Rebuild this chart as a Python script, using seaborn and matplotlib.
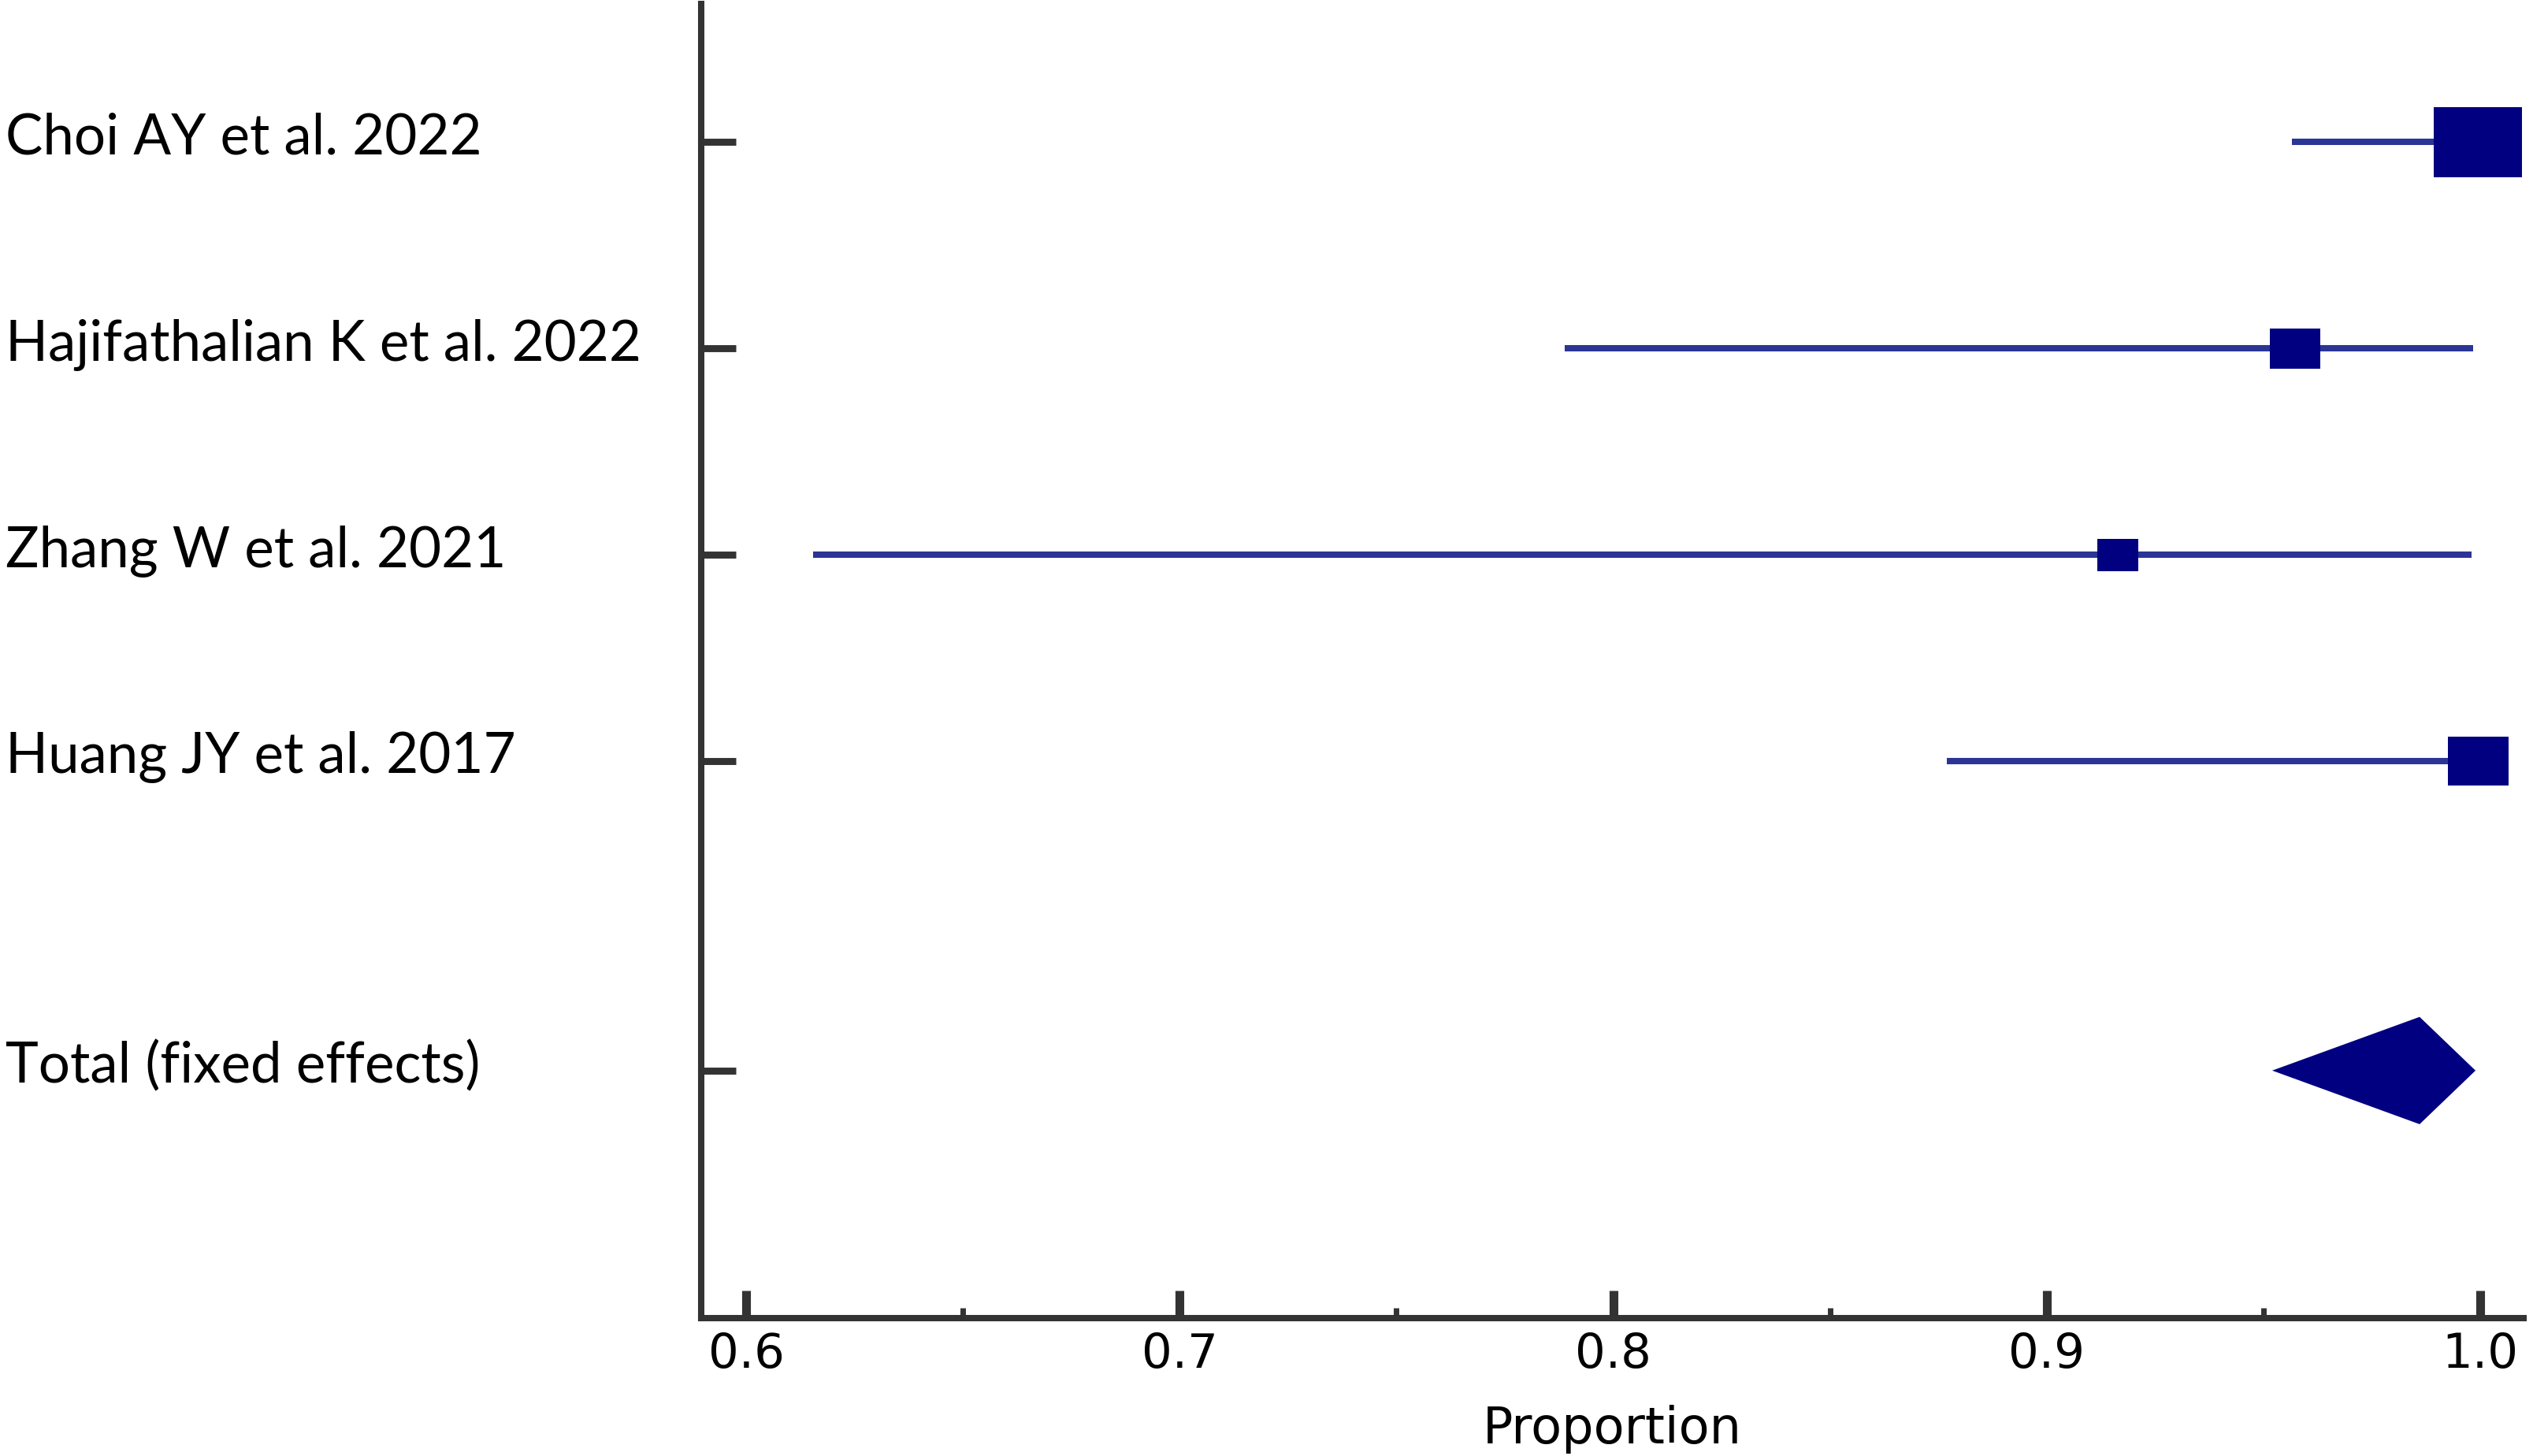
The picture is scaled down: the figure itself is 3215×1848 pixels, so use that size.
import numpy as np
import pandas as pd
import seaborn as sns
import matplotlib.pyplot as plt
import matplotlib.transforms as mtransforms
from matplotlib.markers import MarkerStyle
from matplotlib.path import Path

# study data
studies = ["Choi AY et al. 2022", "Hajifathalian K et al. 2022",
           "Zhang W et al. 2021", "Huang JY et al. 2017"]
prop = [0.9995, 0.9573, 0.9164, 0.9995]
ci_low = [0.9566, 0.7888, 0.6155, 0.8770]
ci_high = [1.0, 0.9984, 0.9980, 1.0]
weights = [49.6, 16.4, 10.5, 23.6]

total_label = "Total (fixed effects)"
total_prop = 0.986
total_low = 0.952
total_high = 0.9989

xticks = [0.6, 0.7, 0.8, 0.9, 1.0]
xminor = [0.65, 0.75, 0.85, 0.95]

sns.set_style("white")
plt.rcParams['font.family'] = ['Lato', 'DejaVu Sans']
plt.rcParams['text.color'] = 'black'
plt.rcParams['xtick.color'] = 'black'
plt.rcParams['ytick.color'] = 'black'
plt.rcParams['axes.labelcolor'] = 'black'

df = pd.DataFrame({"study": studies, "prop": prop, "lo": ci_low,
                   "hi": ci_high, "w": weights})
df["row"] = np.arange(len(df))
total_row = len(df) + 0.5

fig = plt.figure(figsize=(16.08, 9.24), dpi=200)
ax = fig.add_axes([0.2767, 0.0947, 0.7193, 0.9026])

navy = "#000080"
line_col = "#2b3595"
axis_col = "#333333"

ax.hlines(df["row"], df["lo"], df["hi"], color=line_col, lw=2.9, zorder=2)

rect = MarkerStyle(Path([(-1.25, -1), (1.25, -1), (1.25, 1), (-1.25, 1), (-1.25, -1)],
                        [1, 2, 2, 2, 79]))
sns.scatterplot(data=df, x="prop", y="row", size="w", sizes=(0, 1625),
                size_norm=(0, max(weights)), marker=rect, color=navy,
                edgecolor=navy, linewidth=0, legend=False, zorder=3, ax=ax)

h = 0.26
ax.fill([total_low, total_prop, total_high, total_prop],
        [total_row, total_row - h, total_row, total_row + h],
        color=navy, lw=0, zorder=3)

ax.set_xlim(0.5896, 1.01)
ax.set_ylim(5.70, -0.67)

ax.set_yticks(list(df["row"]) + [total_row])
ax.set_yticklabels(studies + [total_label], fontsize=25.5, ha="left")
ax.set_xticks(xticks)
ax.set_xticklabels([f"{t:.1f}" for t in xticks], fontsize=22,
                   family="DejaVu Sans")
ax.set_xticks(xminor, minor=True)

ax.tick_params(axis="y", direction="in", length=16, width=3.2,
               color=axis_col, pad=318, left=True)
ax.tick_params(axis="x", which="major", direction="in", length=12.6,
               width=4, color=axis_col, pad=6, bottom=True)
ax.tick_params(axis="x", which="minor", direction="in", length=4.8,
               width=2.5, color=axis_col, bottom=True)

# labels sit slightly above their ticks in the original
shift = mtransforms.ScaledTranslation(0, 4 / 72, fig.dpi_scale_trans)
for lab in ax.get_yticklabels():
    lab.set_transform(lab.get_transform() + shift)

for s in ["top", "right"]:
    ax.spines[s].set_visible(False)
for s in ["left", "bottom"]:
    ax.spines[s].set_color(axis_col)
    ax.spines[s].set_linewidth(2.9)

ax.set_xlabel("Proportion", fontsize=23, labelpad=12.5, family="DejaVu Sans")
ax.set_ylabel("")

fig.savefig("out.png", dpi=200, facecolor="white")
